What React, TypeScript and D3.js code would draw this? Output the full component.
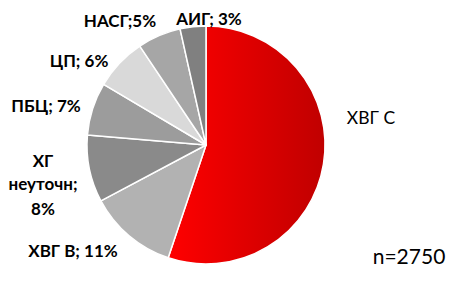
import React from "react";
import * as d3 from "d3";

const categories = ["ХВГ С", "ХВГ В", "ХГ неуточн", "ПБЦ", "ЦП", "НАСГ", "АИГ"];
const values = [55.2, 12.1, 9.1, 7.2, 7.1, 5.9, 3.5];
const colors = ["url(#redGrad)", "#b2b2b2", "#8a8a8a", "#9c9c9c", "#d9d9d9", "#a6a6a6", "#808080"];
const labelLines = [
  ["ХВГ С"],
  ["ХВГ В; 11%"],
  ["ХГ", "неуточн;", "8%"],
  ["ПБЦ; 7%"],
  ["ЦП; 6%"],
  ["НАСГ;5%"],
  ["АИГ; 3%"],
];
const nLabel = "n=2750";

// label layout (anchor point, anchor type, weight)
const labelPos: [number, number, string, number][] = [
  [371, 124, "middle", 400],
  [73, 257, "middle", 700],
  [43, 167, "middle", 700],
  [46, 112, "middle", 700],
  [79, 67, "middle", 700],
  [120, 27, "middle", 700],
  [209, 25, "middle", 700],
];

export default function App() {
  const W = 457, H = 284;
  const cx = 206, cy = 145, r = 119;
  const pie = d3.pie<number>().sort(null).value((d) => d);
  const arcs = pie(values);
  const arc = d3.arc<d3.PieArcDatum<number>>().innerRadius(0).outerRadius(r);
  const font = "Lato, 'Open Sans', sans-serif";
  return (
    <svg width={W} height={H} style={{ position: "absolute", left: 0, top: 0 }}>
      <defs>
        <linearGradient id="redGrad" x1="0" y1="0" x2="1" y2="0">
          <stop offset="0" stopColor="#ff0000" />
          <stop offset="1" stopColor="#c00000" />
        </linearGradient>
      </defs>
      <rect width={W} height={H} fill="#fff" />
      <g transform={`translate(${cx},${cy})`}>
        {arcs.map((a, i) => (
          <path key={categories[i]} d={arc(a) || ""} fill={colors[i]} stroke="#fff" strokeWidth={1.5} strokeLinejoin="round" />
        ))}
      </g>
      {labelLines.map((lines, i) => {
        const [x, y, anchor, weight] = labelPos[i];
        return (
          <text key={i} x={x} y={y} textAnchor={anchor} fontFamily={font} fontSize={weight === 400 ? 17.5 : 17} fontWeight={weight} fill="#000">
            {lines.map((ln, j) => (
              <tspan key={j} x={x} dy={j === 0 ? 0 : j === 1 ? 23 : 25}>{ln}</tspan>
            ))}
          </text>
        );
      })}
      <text x={409} y={264} textAnchor="middle" fontFamily={font} fontSize={21} fill="#000">{nLabel}</text>
    </svg>
  );
}
